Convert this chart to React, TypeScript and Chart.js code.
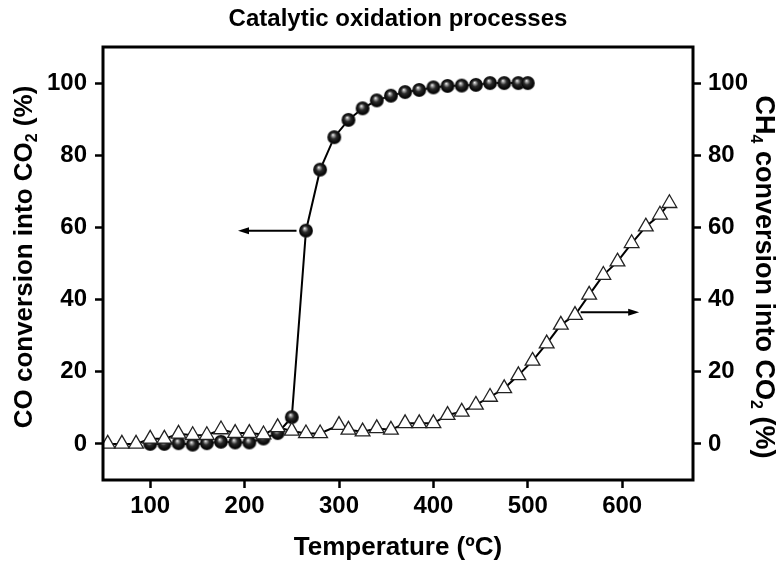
import React, { useEffect, useRef } from 'react';
import { Chart, registerables } from 'chart.js';

Chart.register(...registerables);

// ---- data ----
const coTemps = [100, 115, 130, 145, 160, 175, 190, 205, 220, 235, 250, 265, 280, 295, 310, 325, 340, 355, 370, 385, 400, 415, 430, 445, 460, 475, 490, 500];
const coValues = [0, 0, 0.2, -0.2, 0.2, 0.6, 0.4, 0.4, 1.5, 3.0, 7.4, 59.1, 76, 85, 89.8, 93, 95.2, 96.5, 97.5, 98.1, 98.8, 99.2, 99.3, 99.5, 100, 100, 100, 100];

const ch4Temps = [55, 70, 85, 100, 115, 130, 145, 160, 175, 190, 205, 220, 235, 250, 265, 280, 300, 310, 325, 340, 355, 370, 385, 400, 415, 430, 445, 460, 475, 490, 505, 520, 535, 550, 565, 580, 595, 610, 625, 640, 650];
const ch4Values = [0, 0, 0, 1.4, 1.4, 2.8, 2.4, 2.4, 4.0, 3.0, 3.0, 2.6, 4.6, 3.6, 2.9, 2.9, 5.2, 3.9, 3.4, 4.3, 3.9, 5.7, 5.7, 5.7, 8.0, 8.9, 10.8, 13.0, 15.4, 19.0, 23.0, 27.8, 33.0, 35.7, 41.3, 46.8, 50.5, 55.6, 60.2, 63.5, 66.7];

const xTickValues = [100, 200, 300, 400, 500, 600];
const yTickValues = [0, 20, 40, 60, 80, 100];

const titleText = 'Catalytic oxidation processes';
const xTitleText = 'Temperature (ºC)';
const leftTitleParts: [string, boolean][] = [['CO conversion into CO', false], ['2', true], [' (%)', false]];
const rightTitleParts: [string, boolean][] = [['CH', false], ['4', true], [' conversion into CO', false], ['2', true], [' (%)', false]];

// annotation arrows in data units: from -> to (temperature), at value on given axis
const arrowFrom = [255, 556];
const arrowTo = [193, 618];
const arrowValue = [59.1, 36.5];
const arrowAxis = ['y', 'y2'];

const FONT = '"Liberation Sans", Arial, Helvetica, sans-serif';

function makeSphere(r: number): HTMLCanvasElement {
  const c = document.createElement('canvas');
  const s = Math.ceil(r * 2) + 2;
  c.width = s;
  c.height = s;
  const ctx = c.getContext('2d')!;
  const cx = s / 2;
  const cy = s / 2;
  const g = ctx.createRadialGradient(cx - r * 0.2, cy - r * 0.35, 0, cx, cy, r);
  g.addColorStop(0, '#ffffff');
  g.addColorStop(0.18, '#a0a0a0');
  g.addColorStop(0.45, '#2a2a2a');
  g.addColorStop(0.85, '#050505');
  g.addColorStop(1, '#333333');
  ctx.fillStyle = g;
  ctx.beginPath();
  ctx.arc(cx, cy, r, 0, Math.PI * 2);
  ctx.fill();
  return c;
}

function drawParts(
  ctx: CanvasRenderingContext2D,
  parts: [string, boolean][],
  x: number,
  y: number,
  rot: number,
  mainFont: string,
  subFont: string,
  subShift: number
) {
  ctx.save();
  ctx.translate(x, y);
  ctx.rotate(rot);
  ctx.textBaseline = 'middle';
  ctx.textAlign = 'left';
  ctx.fillStyle = '#000';
  const widths = parts.map(([t, sub]) => {
    ctx.font = sub ? subFont : mainFont;
    return ctx.measureText(t).width;
  });
  const total = widths.reduce((a, b) => a + b, 0);
  let cx = -total / 2;
  parts.forEach(([t, sub], i) => {
    ctx.font = sub ? subFont : mainFont;
    ctx.fillText(t, cx, sub ? subShift : 0);
    cx += widths[i];
  });
  ctx.restore();
}

const decorPlugin = {
  id: 'decor',
  afterDatasetsDraw(chart: any) {
    const ctx: CanvasRenderingContext2D = chart.ctx;
    const xs = chart.scales.x;
    for (let i = 0; i < arrowFrom.length; i++) {
      const ys = chart.scales[arrowAxis[i]];
      const x1 = xs.getPixelForValue(arrowFrom[i]);
      const x2 = xs.getPixelForValue(arrowTo[i]);
      const y = ys.getPixelForValue(arrowValue[i]);
      const dir = Math.sign(x2 - x1);
      const headLen = 11;
      const headHalf = 3.5;
      ctx.save();
      ctx.strokeStyle = '#000';
      ctx.fillStyle = '#000';
      ctx.lineWidth = 2;
      ctx.beginPath();
      ctx.moveTo(x1, y);
      ctx.lineTo(x2 - dir * headLen * 0.8, y);
      ctx.stroke();
      ctx.beginPath();
      ctx.moveTo(x2, y);
      ctx.lineTo(x2 - dir * headLen, y - headHalf);
      ctx.lineTo(x2 - dir * headLen, y + headHalf);
      ctx.closePath();
      ctx.fill();
      ctx.restore();
    }
  },
  afterDraw(chart: any) {
    const ctx: CanvasRenderingContext2D = chart.ctx;
    const a = chart.chartArea;
    ctx.save();
    ctx.strokeStyle = '#000';
    ctx.lineWidth = 3;
    ctx.strokeRect(a.left, a.top, a.right - a.left, a.bottom - a.top);
    ctx.restore();

    const cxm = (a.left + a.right) / 2;
    ctx.save();
    ctx.fillStyle = '#000';
    ctx.textAlign = 'center';
    ctx.textBaseline = 'middle';
    ctx.font = `bold 24px ${FONT}`;
    ctx.fillText(titleText, cxm, 19);
    ctx.font = `bold 26px ${FONT}`;
    ctx.fillText(xTitleText, cxm, 548);
    ctx.restore();

    drawParts(ctx, leftTitleParts, 25, 257, -Math.PI / 2, `bold 26px ${FONT}`, `bold 16px ${FONT}`, 8);
    drawParts(ctx, rightTitleParts, 763, 277, Math.PI / 2, `bold 27px ${FONT}`, `bold 16px ${FONT}`, 8);
  },
};

export default function App() {
  const ref = useRef<HTMLCanvasElement | null>(null);

  useEffect(() => {
    if (!ref.current) return;
    const sphere = makeSphere(7);
    const tickFont = { family: FONT, size: 24, weight: 'bold' as const };
    const gridOpts = {
      drawOnChartArea: false,
      drawTicks: true,
      tickLength: 8,
      tickWidth: 2.5,
      tickColor: '#000',
    };
    const chart = new Chart(ref.current, {
      type: 'line',
      data: {
        datasets: [
          {
            label: 'CH4',
            data: ch4Temps.map((t, i) => ({ x: t, y: ch4Values[i] })),
            yAxisID: 'y2',
            borderColor: '#000',
            borderWidth: 2,
            pointStyle: 'triangle',
            pointRadius: 8.5,
            pointBorderWidth: 1.3,
            pointBorderColor: '#222',
            pointBackgroundColor: '#fff',
            tension: 0,
            fill: false,
          },
          {
            label: 'CO',
            data: coTemps.map((t, i) => ({ x: t, y: coValues[i] })),
            yAxisID: 'y',
            borderColor: '#000',
            borderWidth: 2,
            pointStyle: sphere as any,
            pointRadius: 7,
            tension: 0,
            fill: false,
          },
        ],
      },
      options: {
        responsive: false,
        animation: false,
        layout: { padding: { top: 47, left: 0, right: 0, bottom: 0 } },
        plugins: {
          legend: { display: false },
          title: { display: false },
          tooltip: { enabled: false },
        },
        scales: {
          x: {
            type: 'linear',
            position: 'bottom',
            min: 50,
            max: 675,
            afterBuildTicks: (ax: any) => {
              ax.ticks = xTickValues.map((v) => ({ value: v }));
            },
            afterFit: (s: any) => {
              s.height = 88;
            },
            grid: gridOpts,
            border: { display: false },
            ticks: { font: tickFont, color: '#000', padding: 4, maxRotation: 0, autoSkip: false },
          },
          y: {
            type: 'linear',
            position: 'left',
            min: -10,
            max: 110,
            afterBuildTicks: (ax: any) => {
              ax.ticks = yTickValues.map((v) => ({ value: v }));
            },
            afterFit: (s: any) => {
              s.width = 103;
            },
            grid: gridOpts,
            border: { display: false },
            ticks: { font: tickFont, color: '#000', padding: 8, autoSkip: false },
          },
          y2: {
            type: 'linear',
            position: 'right',
            min: -10,
            max: 110,
            afterBuildTicks: (ax: any) => {
              ax.ticks = yTickValues.map((v) => ({ value: v }));
            },
            afterFit: (s: any) => {
              s.width = 89;
            },
            grid: gridOpts,
            border: { display: false },
            ticks: { font: tickFont, color: '#000', padding: 7, autoSkip: false },
          },
        },
      },
      plugins: [decorPlugin],
    });
    return () => chart.destroy();
  }, []);

  return (
    <div style={{ position: 'absolute', left: 0, top: 0, width: 782, height: 568, background: '#fff' }}>
      <canvas ref={ref} width={782} height={568} />
    </div>
  );
}
